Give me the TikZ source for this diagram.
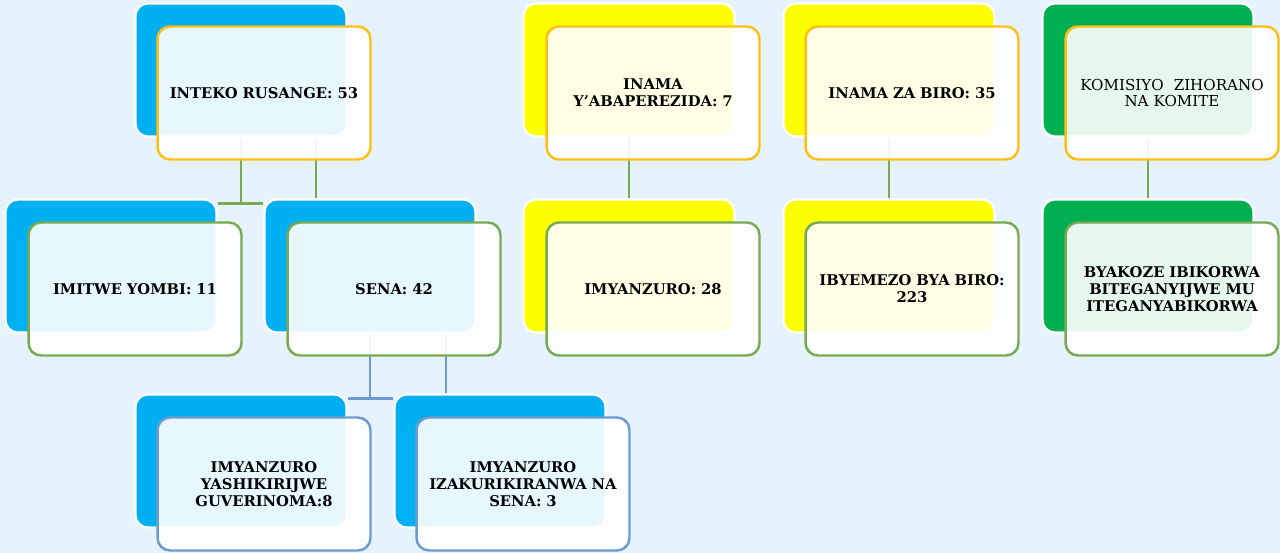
\documentclass[tikz,border=0pt]{standalone}
\usepackage{fontspec}
\setmainfont{DejaVu Serif}
\usepackage{tikz}
\definecolor{bgblue}{HTML}{E7F3FC}
\definecolor{skyfill}{HTML}{00B0F0}
\definecolor{yelfill}{HTML}{FFFF00}
\definecolor{grnfill}{HTML}{00B050}
\definecolor{goldline}{HTML}{FDBF16}
\definecolor{grnline}{HTML}{77AA52}
\definecolor{blueline}{HTML}{6C9BCF}

\begin{document}
\begin{tikzpicture}[x=0.02cm, y=-0.02cm,
    backbox/.style={draw=white, line width=1.2pt, rounded corners=0.25cm, minimum width=4.22cm, minimum height=2.66cm},
    frontbox/.style={draw, fill=white, fill opacity=0.9, text opacity=1, line width=1.4pt, rounded corners=0.25cm,
        minimum width=4.26cm, minimum height=2.66cm, text width=4cm, align=center,
        font=\fontsize{8.4}{9.6}\selectfont\bfseries},
    link/.style={line width=1.6pt}]
    \fill[bgblue] (0,0) rectangle (1280,553);

    \node (intekoB) [backbox, fill=skyfill] at (241,70) {};
    \node (imitweB) [backbox, fill=skyfill] at (111,266) {};
    \node (senaB) [backbox, fill=skyfill] at (370,266) {};
    \node (guverinomaB) [backbox, fill=skyfill] at (241,461) {};
    \node (izakurikiranwaB) [backbox, fill=skyfill] at (500,461) {};
    \node (abaperezidaB) [backbox, fill=yelfill] at (629,70) {};
    \node (imyanzuroB) [backbox, fill=yelfill] at (629,266) {};
    \node (biroB) [backbox, fill=yelfill] at (889,70) {};
    \node (ibyemezoB) [backbox, fill=yelfill] at (889,266) {};
    \node (komisiyoB) [backbox, fill=grnfill] at (1148,70) {};
    \node (byakozeB) [backbox, fill=grnfill] at (1148,266) {};

    \coordinate (barL) at ([yshift=-0.1cm]imitweB.north east);
    \coordinate (barR) at ([yshift=-0.1cm]senaB.north west);
    \coordinate (subL) at ([yshift=-0.1cm]guverinomaB.north east);
    \coordinate (subR) at ([yshift=-0.1cm]izakurikiranwaB.north west);
    \draw[link, grnline] (barL) -- (barR);
    \draw[link, grnline] (intekoB.south) -- (intekoB.south |- barL);
    \draw[link, grnline] ([xshift=1.5cm]intekoB.south) -- ([xshift=1.5cm]intekoB.south |- senaB.north);
    \draw[link, blueline] (subL) -- (subR);
    \draw[link, blueline] (senaB.south) -- (senaB.south |- subL);
    \draw[link, blueline] ([xshift=1.52cm]senaB.south) -- ([xshift=1.52cm]senaB.south |- izakurikiranwaB.north);
    \draw[link, grnline] (abaperezidaB.south) -- (imyanzuroB.north);
    \draw[link, grnline] (biroB.south) -- (ibyemezoB.north);
    \draw[link, grnline] (komisiyoB.south) -- (byakozeB.north);

    \node (inteko) [frontbox, draw=goldline] at (264,93) {INTEKO RUSANGE: 53};
    \node (imitwe) [frontbox, draw=grnline] at (135,289) {IMITWE YOMBI: 11};
    \node (sena) [frontbox, draw=grnline] at (394,289) {SENA: 42};
    \node (guverinoma) [frontbox, draw=blueline] at (264,484) {IMYANZURO\\YASHIKIRIJWE\\GUVERINOMA:8};
    \node (izakurikiranwa) [frontbox, draw=blueline] at (523,484) {IMYANZURO\\IZAKURIKIRANWA NA\\SENA: 3};
    \node (abaperezida) [frontbox, draw=goldline] at (653,93) {INAMA\\Y’ABAPEREZIDA: 7};
    \node (imyanzuro) [frontbox, draw=grnline] at (653,289) {IMYANZURO: 28};
    \node (biro) [frontbox, draw=goldline] at (912,93) {INAMA ZA BIRO: 35};
    \node (ibyemezo) [frontbox, draw=grnline] at (912,289) {IBYEMEZO BYA BIRO:\\223};
    \node (komisiyo) [frontbox, draw=goldline, font=\fontsize{8.6}{9.6}\selectfont] at (1172,93) {KOMISIYO~ ZIHORANO\\NA KOMITE};
    \node (byakoze) [frontbox, draw=grnline] at (1172,289) {BYAKOZE IBIKORWA\\BITEGANYIJWE MU\\ITEGANYABIKORWA};
\end{tikzpicture}
\end{document}
